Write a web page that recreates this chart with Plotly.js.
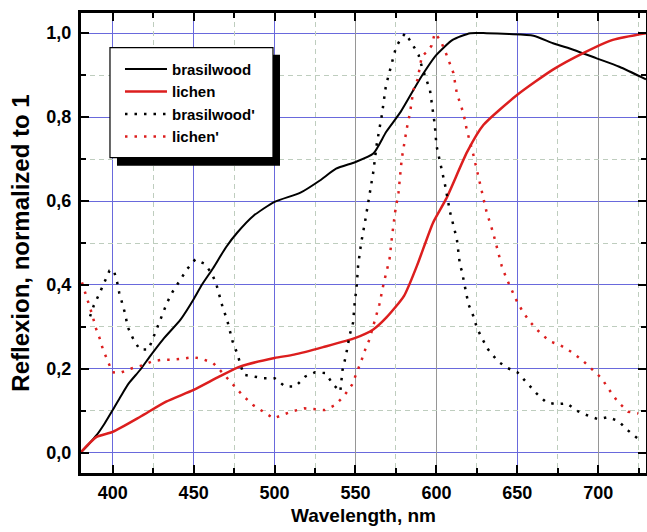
<!DOCTYPE html>
<html>
<head>
<meta charset="utf-8">
<script src="https://cdn.plot.ly/plotly-3.0.1.min.js"></script>
<style>html,body{margin:0;padding:0;background:#fff;}#chart{width:647px;height:532px;}</style>
</head>
<body>
<div id="chart"></div>
<script>
// ---- data ----
const seriesNames = ["brasilwood", "lichen", "brasilwood'", "lichen'"];

const brasilwoodX = [380,385,390,395,400,405,410,417,423,431,442,450,455,462,470,477,487,500,516,528,538,550,561,569,578,590,600,610,621,631,645,660,672,685,699,713,729.5];
const brasilwoodY = [0,0.02,0.042,0.07,0.102,0.135,0.166,0.198,0.23,0.27,0.318,0.366,0.40,0.44,0.49,0.525,0.565,0.598,0.62,0.649,0.677,0.693,0.713,0.765,0.813,0.892,0.948,0.984,1.0,1.0,0.998,0.994,0.976,0.96,0.94,0.92,0.89];

const lichenX = [380,390,400,417,433,450,466,479,500,512,530,550,561,569,580,588,598,606,619,629,650,672,691,709,729.5];
const lichenY = [0,0.038,0.05,0.086,0.122,0.15,0.182,0.206,0.226,0.234,0.252,0.274,0.294,0.322,0.374,0.446,0.549,0.605,0.717,0.781,0.853,0.913,0.953,0.984,1.0];

const brasilwoodDX = [386,388.3,391.6,395,398,400.6,402.7,404,406,408,409,412.6,416.7,422,425,430.5,433.6,436.7,441.4,446,451,457,461.4,464,466,468,470.6,472,474,476.8,478.8,480.9,487,493,500,506.6,512.8,519,525,531.4,536.4,540.6,542,544,546.5,548.5,549.6,550.6,551.6,553.5,556,559,561,563.2,566.3,568.8,572.5,575,577.6,580.7,584.8,589,591,593.6,596,598,599,600,603.3,605.4,608.4,612.6,614.6,615.7,617.1,619.8,622.8,625,628,632,638,644,650,656,662,668,674.4,680.6,686.8,694,700,706,712.3,718.5,725.7];
const brasilwoodDY = [0.325,0.351,0.378,0.407,0.434,0.436,0.407,0.382,0.354,0.327,0.302,0.272,0.246,0.246,0.274,0.33,0.358,0.382,0.41,0.438,0.461,0.45,0.426,0.402,0.374,0.346,0.318,0.294,0.266,0.238,0.21,0.186,0.182,0.178,0.178,0.158,0.158,0.182,0.192,0.19,0.162,0.146,0.198,0.23,0.282,0.31,0.362,0.39,0.446,0.5,0.553,0.629,0.669,0.737,0.805,0.875,0.933,0.966,0.984,1.0,0.976,0.948,0.92,0.892,0.865,0.809,0.782,0.733,0.677,0.637,0.574,0.51,0.446,0.434,0.406,0.354,0.326,0.298,0.274,0.246,0.218,0.202,0.192,0.166,0.141,0.12,0.116,0.118,0.1,0.088,0.08,0.085,0.076,0.053,0.03];

const lichenDX = [381,383,385.4,387.5,389.5,392,394,396.8,399.8,404.3,410.5,418,424.3,430.5,436.7,442.8,449.6,455,462,468,474.7,480.5,486.7,493,499.4,506,512,518.4,525,531,537.5,543,547.8,550.8,553.5,556,558.6,560.8,562.8,564.8,567.3,569.4,571,572.5,574.5,576.6,578.6,581.7,583.8,585.8,588.3,591,594,597,599,602.3,605.4,610.5,612.6,616.7,618.8,622.9,627,631,635,640.3,643,646.5,649.6,653.7,658.3,664,670,676.8,683.6,689.8,696,702,706.8,712,718.5,724.7];
const lichenDY = [0.406,0.382,0.354,0.327,0.298,0.272,0.246,0.218,0.192,0.19,0.2,0.208,0.218,0.222,0.222,0.224,0.228,0.224,0.214,0.19,0.16,0.136,0.114,0.098,0.082,0.092,0.1,0.106,0.104,0.102,0.114,0.136,0.162,0.19,0.218,0.246,0.27,0.3,0.326,0.354,0.402,0.434,0.461,0.513,0.574,0.621,0.701,0.773,0.813,0.865,0.889,0.945,0.955,0.97,1.0,0.984,0.957,0.905,0.857,0.809,0.769,0.709,0.637,0.574,0.525,0.446,0.418,0.39,0.362,0.334,0.31,0.286,0.266,0.256,0.24,0.222,0.2,0.178,0.15,0.122,0.098,0.094];

const xTickVals = [400,450,500,550,600,650,700];
const xMinorVals = [425,475,525,575,625,675,725];
const yMinorVals = [0.1,0.3,0.5,0.7,0.9];
const grayGridVals = [550,600,700];
const xTitle = "Wavelength, nm";
const yTitle = "Reflexion, normalized to 1";

// ---- styling ----
const FONT = "Arial, 'Liberation Sans', Helvetica, sans-serif";
const RED = "rgb(220,30,30)";
const BLUE = "rgb(105,105,220)";
const GRAY = "rgb(150,150,150)";
const MINOR = "rgb(190,205,190)";

const traces = [
  {x: brasilwoodX, y: brasilwoodY, name: seriesNames[0], mode: "lines",
   line: {color: "black", width: 2, shape: "spline", smoothing: 0.6}},
  {x: lichenX, y: lichenY, name: seriesNames[1], mode: "lines",
   line: {color: RED, width: 2.5, shape: "spline", smoothing: 0.6}},
  {x: brasilwoodDX, y: brasilwoodDY, name: seriesNames[2], mode: "lines",
   line: {color: "black", width: 2.5, dash: "2.5px,7px"}},
  {x: lichenDX, y: lichenDY, name: seriesNames[3], mode: "lines",
   line: {color: RED, width: 2.5, dash: "2.5px,7px"}},
  {x: [], y: [], xaxis: "x2", showlegend: false, hoverinfo: "skip", mode: "lines"},
  {x: [], y: [], xaxis: "x3", yaxis: "y3", showlegend: false, hoverinfo: "skip", mode: "lines"}
];

const xRange = [380.4, 729.5];
const yRange = [-0.048, 1.048];

const minorAxis = {
  ticks: "inside", ticklen: 5, tickwidth: 2, tickcolor: "black",
  showline: true, linewidth: 3, linecolor: "black", mirror: "ticks",
  showgrid: true, gridcolor: MINOR, gridwidth: 1, griddash: "5px,4px",
  showticklabels: false, zeroline: false
};

const layout = {
  width: 647, height: 532,
  margin: {l: 81, r: 1, t: 13, b: 59, pad: 0},
  paper_bgcolor: "white", plot_bgcolor: "white",
  separators: ",.",
  showlegend: true,
  font: {family: FONT, color: "black", size: 18, weight: "bold"},
  xaxis: {
    range: xRange, tickvals: xTickVals,
    ticks: "inside", ticklen: 8, tickwidth: 2, tickcolor: "black",
    showline: true, linewidth: 3, linecolor: "black", mirror: "ticks",
    showgrid: true, gridcolor: BLUE, gridwidth: 1, zeroline: false,
    tickfont: {family: FONT, size: 18, weight: "bold", color: "black"},
    ticklabelstandoff: 1,
    title: {text: xTitle, font: {family: FONT, size: 19, weight: "bold", color: "black"}, standoff: 8}
  },
  xaxis2: {
    range: xRange, overlaying: "x", tickvals: grayGridVals,
    showgrid: true, gridcolor: GRAY, gridwidth: 1.5,
    showticklabels: false, ticks: "", showline: false, zeroline: false
  },
  xaxis3: Object.assign({range: xRange, overlaying: "x", anchor: "y3", tickvals: xMinorVals}, minorAxis),
  yaxis3: Object.assign({range: yRange, overlaying: "y", anchor: "x3", tickvals: yMinorVals}, minorAxis),
  yaxis: {
    range: yRange, dtick: 0.2, tick0: 0, tickformat: ".1f",
    ticks: "inside", ticklen: 8, tickwidth: 2, tickcolor: "black",
    showline: true, linewidth: 3, linecolor: "black", mirror: "ticks",
    showgrid: true, gridcolor: BLUE, gridwidth: 1, zeroline: false,
    tickfont: {family: FONT, size: 18, weight: "bold", color: "black"},
    ticklabelstandoff: 3,
    title: {text: yTitle, font: {family: FONT, size: 24, weight: "bold", color: "black"}, standoff: 10}
  },
  legend: {
    x: 0.0690, y: 0.9137, xanchor: "left", yanchor: "top",
    bgcolor: "rgba(0,0,0,0)", borderwidth: 0,
    font: {family: FONT, size: 15, weight: "bold", color: "black"},
    itemwidth: 42, tracegroupgap: 0
  },
  shapes: [
    {type: "rect", xref: "paper", yref: "paper", x0: 0.0637, x1: 0.3522, y0: 0.668, y1: 0.9093,
     fillcolor: "black", line: {width: 0}, layer: "above"},
    {type: "rect", xref: "paper", yref: "paper", x0: 0.0513, x1: 0.3398, y0: 0.6854, y1: 0.9246,
     fillcolor: "white", line: {color: "black", width: 1.2}, layer: "above"}
  ]
};

Plotly.newPlot("chart", traces, layout, {displayModeBar: false, staticPlot: true});
</script>
</body>
</html>
